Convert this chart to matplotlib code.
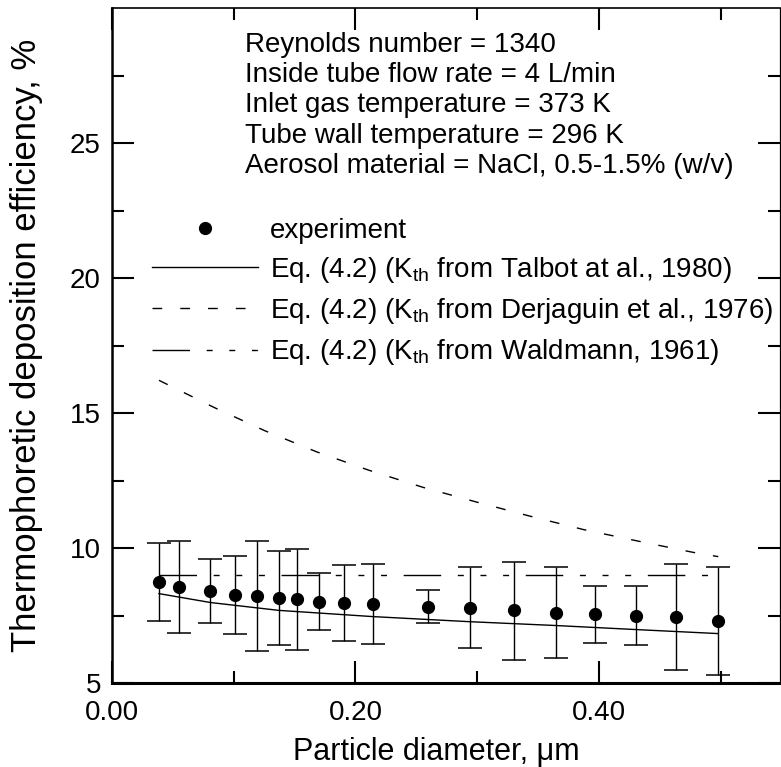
import matplotlib
matplotlib.use("Agg")
import matplotlib.pyplot as plt
from matplotlib.lines import Line2D
from matplotlib.ticker import FixedLocator, FixedFormatter

plt.rcParams['font.family'] = ['Liberation Sans', 'DejaVu Sans']
plt.rcParams['mathtext.fontset'] = 'custom'
plt.rcParams['mathtext.rm'] = 'Liberation Sans'
plt.rcParams['mathtext.it'] = 'Liberation Sans:italic'
plt.rcParams['lines.scale_dashes'] = False

# Measured thermophoretic deposition efficiency (mean with min/max range)
diameter = [0.0386, 0.0549, 0.0809, 0.1007, 0.1188, 0.1368, 0.1523, 0.1704, 0.1903,
            0.2144, 0.2599, 0.2939, 0.3300, 0.3643, 0.3971, 0.4303, 0.4635, 0.4978]
efficiency = [8.73, 8.54, 8.41, 8.26, 8.23, 8.14, 8.10, 8.01, 7.98,
              7.94, 7.83, 7.79, 7.69, 7.60, 7.54, 7.50, 7.44, 7.29]
eff_high = [10.19, 10.25, 9.60, 9.70, 10.25, 9.89, 9.98, 9.09, 9.38,
            9.41, 8.44, 9.29, 9.50, 9.29, 8.60, 8.61, 9.39, 9.29]
eff_low = [7.29, 6.85, 7.23, 6.83, 6.20, 6.41, 6.23, 6.96, 6.56,
           6.44, 7.24, 6.31, 5.85, 5.93, 6.49, 6.41, 5.49, 5.31]

# Eq. (4.2) predictions with different thermophoretic coefficients
talbot_d = [0.0386, 0.081, 0.137, 0.214, 0.294, 0.364, 0.430, 0.498]
talbot_eff = [8.31, 7.98, 7.69, 7.46, 7.27, 7.13, 6.98, 6.83]
derjaguin_d = [0.0386, 0.0841, 0.1257, 0.1682, 0.2110, 0.2552, 0.2988, 0.3433,
               0.3875, 0.4327, 0.4772, 0.498]
derjaguin_eff = [16.21, 15.20, 14.34, 13.56, 12.88, 12.25, 11.71, 11.18,
                 10.68, 10.25, 9.84, 9.68]
waldmann_d = [0.0386, 0.498]
waldmann_eff = [9.0, 9.0]

x_major = [0.0, 0.2, 0.4]
x_major_labels = ["0.00", "0.20", "0.40"]
x_minor = [0.1, 0.3, 0.5]
y_major = [5, 10, 15, 20, 25]
y_minor = [7.5, 12.5, 17.5, 22.5, 27.5]

conditions = [
    "Reynolds number = 1340",
    "Inside tube flow rate = 4 L/min",
    "Inlet gas temperature = 373 K",
    "Tube wall temperature = 296 K",
    "Aerosol material = NaCl, 0.5-1.5% (w/v)",
]
legend_labels = [
    "experiment",
    r"Eq. (4.2) (K$_{\mathrm{th}}$ from Talbot at al., 1980)",
    r"Eq. (4.2) (K$_{\mathrm{th}}$ from Derjaguin et al., 1976)",
    r"Eq. (4.2) (K$_{\mathrm{th}}$ from Waldmann, 1961)",
]

FS = 20
W, H = 781, 767
fig = plt.figure(figsize=(W / 100, H / 100), dpi=100)
ax = fig.add_axes([112 / W, 84 / H, 668 / W, 675 / H])

dash_derj = (7, 13)
dash_wald = (27, 12, 4.3, 12, 4.3, 12, 4.3, 12)

ax.plot(talbot_d, talbot_eff, color='black', lw=1.0)
ax.plot(derjaguin_d, derjaguin_eff, color='black', lw=1.0, dashes=dash_derj)
ax.plot(waldmann_d, waldmann_eff, color='black', lw=1.0, dashes=dash_wald)

yerr = [[e - lo for e, lo in zip(efficiency, eff_low)],
        [hi - e for e, hi in zip(efficiency, eff_high)]]
ax.errorbar(diameter, efficiency, yerr=yerr, fmt='o', color='black', ms=8.5,
            elinewidth=1.0, capsize=8.5, capthick=1.1)

ax.set_xlim(0, 0.5487)
ax.set_ylim(5, 30)

ax.xaxis.set_major_locator(FixedLocator(x_major))
ax.xaxis.set_major_formatter(FixedFormatter(x_major_labels))
ax.xaxis.set_minor_locator(FixedLocator(x_minor))
ax.yaxis.set_major_locator(FixedLocator(y_major))
ax.yaxis.set_minor_locator(FixedLocator(y_minor))

ax.tick_params(which='both', direction='in', top=True, right=True,
               labelsize=FS, width=1.5, color='black')
ax.tick_params(which='major', length=16)
ax.tick_params(which='minor', length=8.5)
ax.tick_params(axis='y', which='major', pad=8)
ax.tick_params(axis='x', which='major', pad=12)

ax.spines['left'].set_linewidth(1.8)
ax.spines['bottom'].set_linewidth(2.2)
ax.spines['top'].set_linewidth(1.2)
ax.spines['right'].set_linewidth(0.9)

ax.set_xlabel("Particle diameter, \u03bcm", fontsize=22)
ax.set_ylabel("Thermophoretic deposition efficiency, %", fontsize=25)
ax.xaxis.set_label_coords(0.485, -0.080)
ax.yaxis.set_label_coords(-0.103, 0.5)

for i, line in enumerate(conditions):
    ax.text(0.199, 0.935 - i * 0.0448, line, transform=ax.transAxes,
            fontsize=FS, ha='left', va='baseline')

handles = [
    Line2D([], [], marker='o', ls='none', color='black', ms=8.5),
    Line2D([], [], color='black', lw=1.0),
    Line2D([], [], color='black', lw=1.0, dashes=dash_derj),
    Line2D([], [], color='black', lw=1.0, dashes=dash_wald),
]
ax.legend(handles, legend_labels, loc='upper left', bbox_to_anchor=(0.06, 0.689),
          frameon=False, fontsize=FS, handlelength=3.8, handletextpad=0.43,
          labelspacing=0.4, borderpad=0, borderaxespad=0)

fig.savefig("out.png", dpi=100)
